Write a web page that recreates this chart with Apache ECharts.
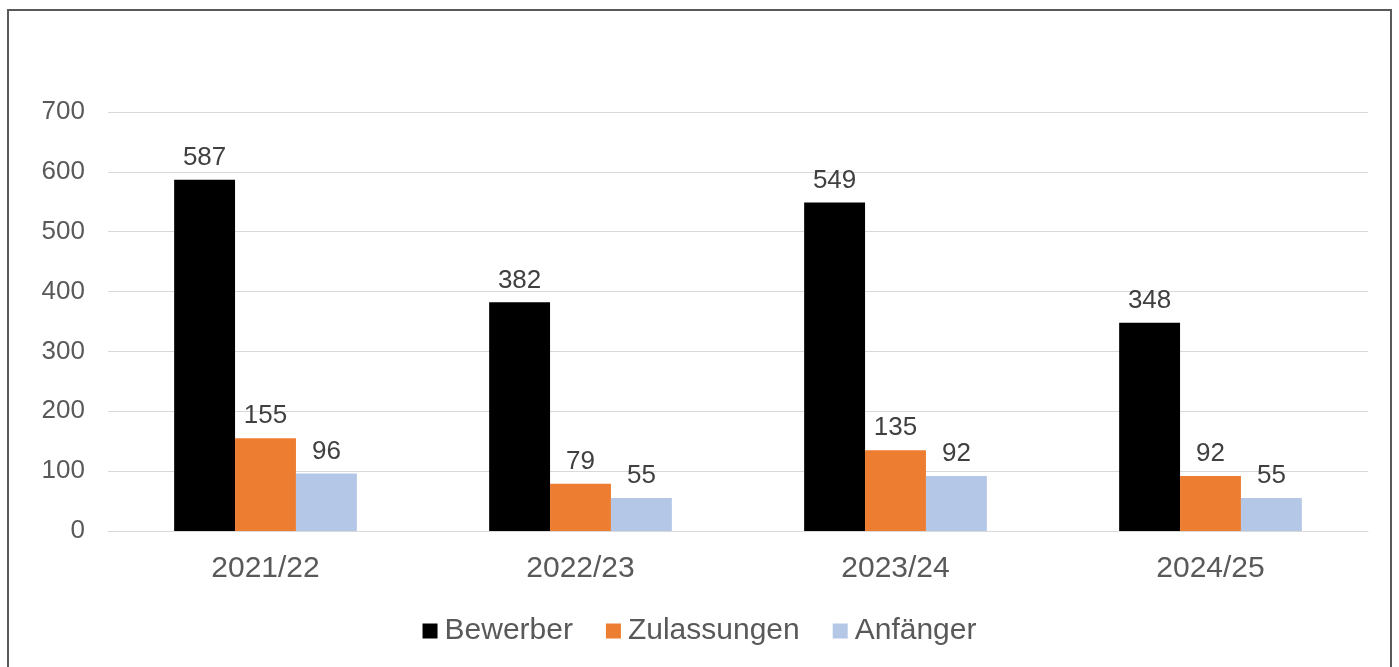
<!DOCTYPE html>
<html lang="de">
<head>
	<meta charset="UTF-8">
	<title>Bewerber, Zulassungen, Anfänger</title>
	<script type="text/javascript" src="https://cdn.jsdelivr.net/npm/echarts@6/dist/echarts.min.js"></script>
	<style>
		html, body {
			width: 100%;
			height: 100%;
			margin: 0;
			background: #fff;
			overflow: hidden;
		}
		#content {
			position: absolute;
			left: 0; top: 0;
			width: 1399px;
			height: 667px;
		}
		#frame {
			position: absolute;
			left: 7px; top: 9px;
			width: 1381px; height: 700px;
			border: 2px solid #595959;
			pointer-events: none;
		}
	</style>
</head>
<body>
	<div id="content"></div>
	<div id="frame"></div>
	<script>
		// Daten
		var jahre = ['2021/22', '2022/23', '2023/24', '2024/25'];
		var bewerber = [587, 382, 549, 348];
		var zulassungen = [155, 79, 135, 92];
		var anfaenger = [96, 55, 92, 55];

		var chart = echarts.init(document.getElementById('content'));
		var schrift = '"Liberation Sans", Arial, sans-serif';
		var grau = '#595959';

		function reihe(name, werte, farbe) {
			return {
				name: name,
				type: 'bar',
				data: werte,
				barGap: '0%',
				barCategoryGap: '42%',
				itemStyle: { color: farbe },
				label: {
					show: true,
					position: 'top',
					distance: 9,
					color: '#404040',
					fontSize: 26,
					fontFamily: schrift
				}
			};
		}

		chart.setOption({
			animation: false,
			textStyle: { fontFamily: schrift },
			legend: {
				top: 611,
				left: 'center',
				itemWidth: 15,
				itemHeight: 15,
				itemGap: 33,
				icon: 'rect',
				textStyle: { color: grau, fontSize: 30, fontFamily: schrift, padding: [0, 0, 0, 2] }
			},
			grid: { left: 108, right: 31, top: 112, bottom: 136 },
			xAxis: {
				type: 'category',
				data: jahre,
				axisTick: { show: false },
				axisLine: { lineStyle: { color: '#d9d9d9', width: 1 } },
				axisLabel: { color: grau, fontSize: 30, margin: 23, fontFamily: schrift }
			},
			yAxis: {
				type: 'value',
				min: 0,
				max: 700,
				interval: 100,
				axisLine: { show: false },
				axisTick: { show: false },
				splitLine: { lineStyle: { color: '#d9d9d9', width: 1 } },
				axisLabel: { color: grau, fontSize: 26, margin: 23, fontFamily: schrift, padding: [3, 0, 0, 0] }
			},
			series: [
				reihe('Bewerber', bewerber, '#000000'),
				reihe('Zulassungen', zulassungen, '#ED7D31'),
				reihe('Anfänger', anfaenger, '#B4C7E7')
			]
		});
		window.onresize = chart.resize;
	</script>
</body>
</html>
